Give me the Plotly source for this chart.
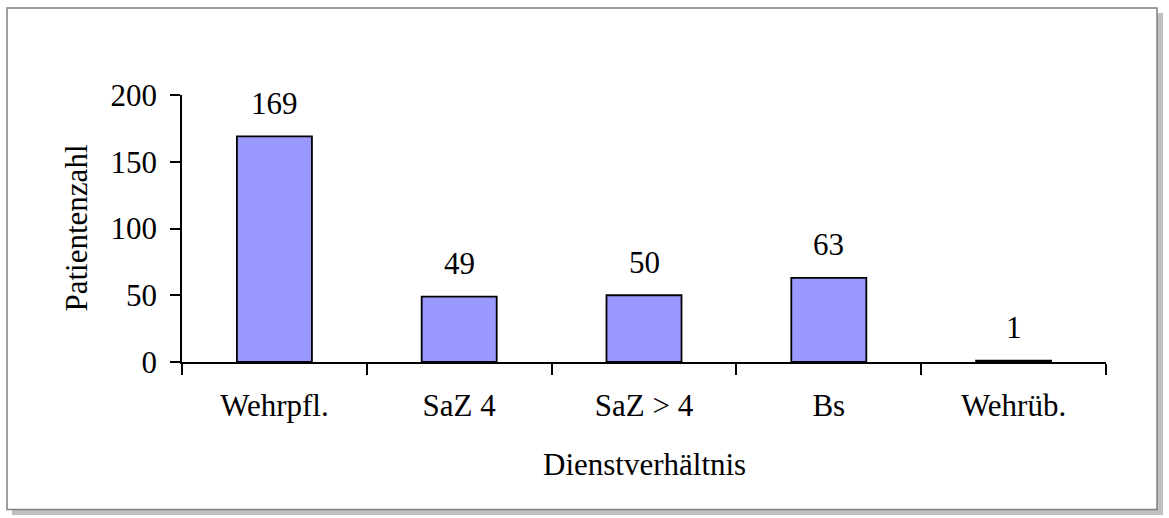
import plotly.graph_objects as go

categories = ["Wehrpfl.", "SaZ 4", "SaZ > 4", "Bs", "Wehrüb."]
patients = [169, 49, 50, 63, 1]
y_ticks = [0, 50, 100, 150, 200]

W, H = 1169, 518
L, R, T, B = 182, 1106, 95, 362  # plot area in pixels


def px_x(p):
    return (p - L) / (R - L)


def px_y(p):
    return (B - p) / (B - T)


FONT = dict(family="Liberation Serif", size=31, color="black")

fig = go.Figure()
fig.add_trace(go.Bar(
    x=categories, y=patients,
    marker=dict(color="#9999FF", line=dict(color="black", width=1.8)),
    hoverinfo="x+y",
))

annotations = []
for c, v in zip(categories, patients):
    annotations.append(dict(x=c, y=v, xref="x", yref="y", text=str(v), showarrow=False,
                            yanchor="middle", xanchor="center", yshift=33, font=FONT))
annotations.append(dict(x=0.5, y=px_y(464), xref="paper", yref="paper", text="Dienstverhältnis",
                        showarrow=False, xanchor="center", yanchor="middle", font=FONT))
annotations.append(dict(x=px_x(76), y=0.5, xref="paper", yref="paper", text="Patientenzahl",
                        showarrow=False, xanchor="center", yanchor="middle", textangle=-90, font=FONT))

shapes = [
    dict(type="rect", xref="paper", yref="paper", layer="below",
         x0=px_x(12), x1=px_x(1163), y0=px_y(13), y1=px_y(515),
         fillcolor="#c0c0c0", line=dict(width=0)),
    dict(type="rect", xref="paper", yref="paper", layer="below",
         x0=px_x(7), x1=px_x(1157), y0=px_y(8), y1=px_y(509.5),
         fillcolor="white", line=dict(color="#808080", width=1.5)),
]

fig.update_layout(
    width=W, height=H,
    margin=dict(l=L, r=W - R, t=T, b=H - B),
    paper_bgcolor="white", plot_bgcolor="rgba(0,0,0,0)",
    bargap=0.594,
    showlegend=False,
    font=FONT,
    annotations=annotations,
    shapes=shapes,
    xaxis=dict(type="category", tickson="boundaries", ticks="outside", ticklen=11,
               tickwidth=1.8, tickcolor="black", showline=True, linecolor="black", linewidth=1.8,
               showgrid=False, zeroline=False, tickfont=FONT, ticklabelstandoff=15),
    yaxis=dict(range=[0, 200], tickvals=y_ticks, ticks="outside", ticklen=10,
               tickwidth=1.8, tickcolor="black", showline=True, linecolor="black", linewidth=1.8,
               showgrid=False, zeroline=False, tickfont=FONT, ticklabelstandoff=7),
)

fig.write_html("out.html", config={"displayModeBar": False},
               post_script="document.body.style.margin='0';")
